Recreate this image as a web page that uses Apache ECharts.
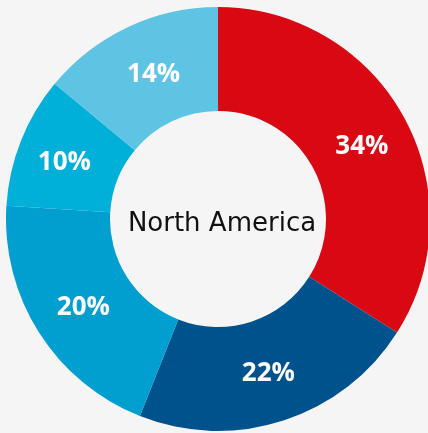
<!DOCTYPE html>
<html>
<head>
<meta charset="utf-8">
<style>
html,body{margin:0;padding:0;background:#f5f5f5;}
#c{width:428px;height:433px;}
</style>
<script src="https://cdn.jsdelivr.net/npm/echarts@6/dist/echarts.min.js"></script>
</head>
<body>
<div id="c"></div>
<script>
const categories = ['A', 'B', 'C', 'D', 'E'];
const values = [34, 22, 20, 10, 14];
const colors = ['#d90914', '#00528c', '#009fcf', '#00b0d9', '#5fc3e4'];
const centerLabel = 'North America';
// small label nudges to match the reference placement
const labelOffsets = [[1, 6], [0, 0], [3, 1], [-2, 4], [5, 3]];

const chart = echarts.init(document.getElementById('c'), null, {renderer: 'canvas'});
chart.setOption({
  backgroundColor: '#f5f5f5',
  animation: false,
  title: {
    text: centerLabel,
    left: 217, top: 219,
    textAlign: 'center', textVerticalAlign: 'middle',
    textStyle: {fontFamily: 'DejaVu Sans', fontWeight: 'normal', fontSize: 26, color: '#111'}
  },
  series: [{
    type: 'pie',
    center: [218, 219],
    radius: [108, 212],
    startAngle: 90,
    clockwise: true,
    avoidLabelOverlap: false,
    data: categories.map((c, i) => ({
      name: c, value: values[i],
      itemStyle: {color: colors[i]},
      label: {offset: labelOffsets[i]}
    })),
    label: {
      position: 'inside',
      formatter: '{c}%',
      color: '#fff',
      fontFamily: 'Open Sans',
      fontWeight: 'bold',
      fontSize: 26
    },
    labelLine: {show: false},
    emphasis: {disabled: true}
  }]
});
</script>
</body>
</html>
